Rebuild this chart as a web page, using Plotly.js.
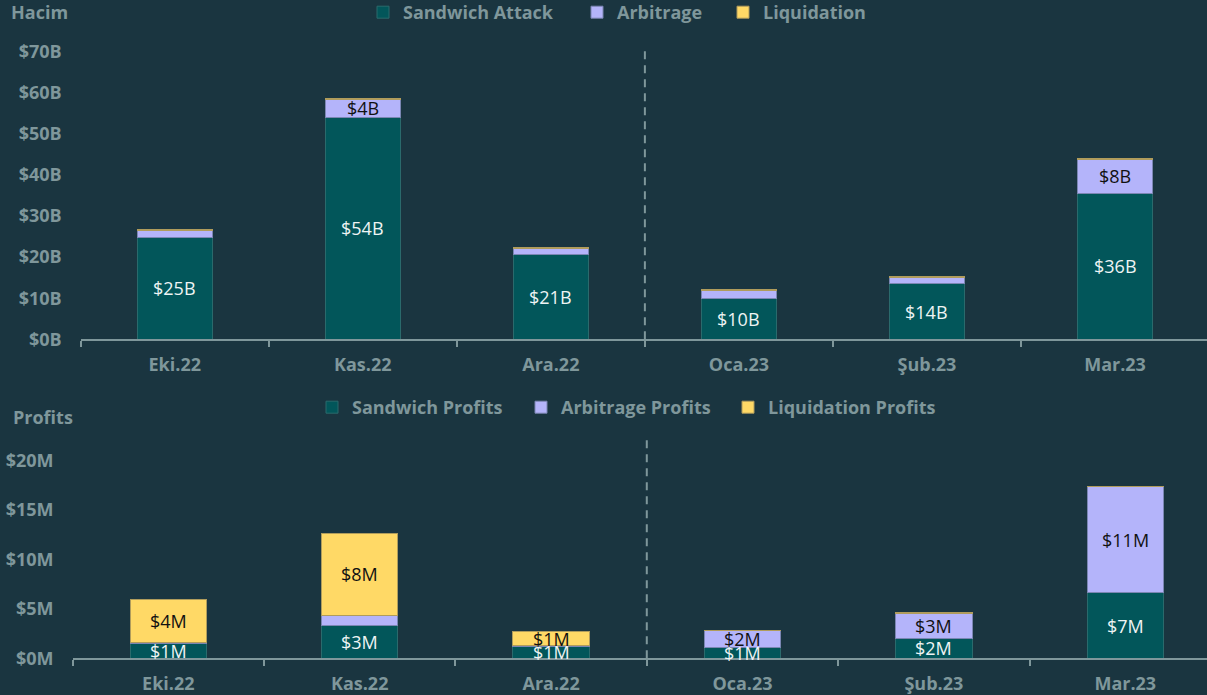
<!DOCTYPE html>
<html>
<head>
<meta charset="utf-8">
<script src="https://cdn.plot.ly/plotly-3.0.1.min.js"></script>
<style>
  html, body { margin: 0; padding: 0; background: #1a3540; }
  #chart { width: 1207px; height: 695px; }
</style>
</head>
<body>
<div id="chart"></div>
<script>
// ---- data ----
const months = ['Eki.22', 'Kas.22', 'Ara.22', 'Oca.23', 'Şub.23', 'Mar.23'];

// Volume (billions USD)
const volSandwich    = [24.8, 54.0, 20.7, 10.0, 13.5, 35.5];
const volArbitrage   = [1.7, 4.45, 1.4, 1.95, 1.6, 8.3];
const volLiquidation = [0.15, 0.25, 0.15, 0.15, 0.15, 0.15];
const volSandwichLabels  = ['$25B', '$54B', '$21B', '$10B', '$14B', '$36B'];
const volArbitrageLabels = ['', '$4B', '', '', '', '$8B'];

// Profits (millions USD)
const profSandwich    = [1.5, 3.3, 1.2, 1.1, 2.0, 6.6];
const profArbitrage   = [0.1, 1.05, 0.05, 1.7, 2.55, 10.7];
const profLiquidation = [4.3, 8.3, 1.45, 0.05, 0.05, 0.1];
const profSandwichLabels    = ['$1M', '$3M', '$1M', '$1M', '$2M', '$7M'];
const profArbitrageLabels   = ['', '', '', '$2M', '$3M', '$11M'];
const profLiquidationLabels = ['$4M', '$8M', '$1M', '', '', ''];

const volTicks       = [0, 10, 20, 30, 40, 50, 60, 70];
const volTickLabels  = ['$0B', '$10B', '$20B', '$30B', '$40B', '$50B', '$60B', '$70B'];
const profTicks      = [0, 5, 10, 15, 20];
const profTickLabels = ['$0M', '$5M', '$10M', '$15M', '$20M'];

// ---- style ----
const BG = '#1a3540';
const GREY = '#7f979b';
const C_SAND = '#02565a';
const C_ARB = '#b4b4fa';
const C_LIQ = '#ffd966';
const FONT = 'Open Sans, Noto Sans, sans-serif';

function bar(name, x, y, color, lineColor, xa, ya, legend) {
  return {
    type: 'bar', name: name, x: x, y: y,
    xaxis: xa, yaxis: ya, legend: legend,
    marker: { color: color, line: { color: lineColor, width: 1 } },
    hoverinfo: 'none'
  };
}

const traces = [
  bar('Sandwich Attack', months, volSandwich, C_SAND, '#2a6a6c', 'x', 'y', 'legend'),
  bar('Arbitrage', months, volArbitrage, C_ARB, '#7b86b3', 'x', 'y', 'legend2'),
  bar('Liquidation', months, volLiquidation, C_LIQ, '#b09c5c', 'x', 'y', 'legend3'),
  bar('Sandwich Profits', months, profSandwich, C_SAND, '#2a6a6c', 'x2', 'y2', 'legend4'),
  bar('Arbitrage Profits', months, profArbitrage, C_ARB, '#7b86b3', 'x2', 'y2', 'legend5'),
  bar('Liquidation Profits', months, profLiquidation, C_LIQ, '#b09c5c', 'x2', 'y2', 'legend6')
];

// segment labels, positioned at the middle of each stacked segment
const annotations = [];
function addLabels(stack, labels, layerIndex, xref, yref, color) {
  months.forEach((m, i) => {
    const txt = labels[i];
    if (!txt) return;
    let base = 0;
    for (let k = 0; k < layerIndex; k++) base += stack[k][i];
    const mid = base + stack[layerIndex][i] / 2;
    annotations.push({
      x: m, y: mid, xref: xref, yref: yref, text: txt, showarrow: false,
      font: { family: FONT, size: 18, color: color }, xanchor: 'center', yanchor: 'middle'
    });
  });
}
const volStack = [volSandwich, volArbitrage, volLiquidation];
const profStack = [profSandwich, profArbitrage, profLiquidation];
addLabels(volStack, volSandwichLabels, 0, 'x', 'y', '#eef4f4');
addLabels(volStack, volArbitrageLabels, 1, 'x', 'y', '#111111');
addLabels(profStack, profSandwichLabels, 0, 'x2', 'y2', '#eef4f4');
addLabels(profStack, profArbitrageLabels, 1, 'x2', 'y2', '#111111');
addLabels(profStack, profLiquidationLabels, 2, 'x2', 'y2', '#111111');

annotations.push({
  text: 'Hacim', xref: 'paper', yref: 'paper', x: 9 / 1207, y: 1 - 12 / 695,
  xanchor: 'left', yanchor: 'middle', showarrow: false,
  font: { family: FONT, size: 18, color: GREY, weight: 700 }
});
annotations.push({
  text: 'Profits', xref: 'paper', yref: 'paper', x: 11 / 1207, y: 1 - 417 / 695,
  xanchor: 'left', yanchor: 'middle', showarrow: false,
  font: { family: FONT, size: 18, color: GREY, weight: 700 }
});

const tickFont = { family: FONT, size: 18, color: GREY, weight: 700 };
const legendFont = { family: FONT, size: 18, color: GREY, weight: 700 };

function xAxis(domainStart, rangeEnd) {
  return {
    type: 'category', domain: [domainStart, 1], range: [-0.5, rangeEnd],
    showline: true, linecolor: GREY, linewidth: 2,
    ticks: 'outside', ticklen: 6, tickwidth: 2, tickcolor: GREY, tickson: 'boundaries',
    showgrid: false, zeroline: false, tickfont: tickFont, ticklabelstandoff: 8,
    fixedrange: true, automargin: false
  };
}

function legendAt(px, py) {
  return {
    orientation: 'h', x: px / 1207, y: 1 - py / 695, xanchor: 'left', yanchor: 'top',
    bgcolor: 'rgba(0,0,0,0)', font: legendFont,
    itemclick: false, itemdoubleclick: false
  };
}

const layout = {
  width: 1207, height: 695,
  paper_bgcolor: BG, plot_bgcolor: BG,
  margin: { l: 0, r: 0, t: 0, b: 0, pad: 0, autoexpand: false },
  barmode: 'stack', bargap: 0.6,
  font: { family: FONT, color: GREY },
  showlegend: true,
  xaxis: xAxis(80.7 / 1207, 5.489),
  yaxis: {
    domain: [1 - 339.3 / 695, 1 - 45.4 / 695], range: [0, 71.5],
    tickvals: volTicks, ticktext: volTickLabels,
    showgrid: false, zeroline: false, showline: false, ticks: '',
    tickfont: tickFont, ticklabelstandoff: 18, fixedrange: true, automargin: false
  },
  xaxis2: Object.assign(xAxis(72.6 / 1207, 5.427), { anchor: 'y2' }),
  yaxis2: {
    anchor: 'x2',
    domain: [1 - 658.3 / 695, 1 - 435.5 / 695], range: [0, 22.5],
    tickvals: profTicks, ticktext: profTickLabels,
    showgrid: false, zeroline: false, showline: false, ticks: '',
    tickfont: tickFont, ticklabelstandoff: 18, fixedrange: true, automargin: false
  },
  legend:  legendAt(363, -6),
  legend2: legendAt(577, -6),
  legend3: legendAt(723, -6),
  legend4: legendAt(312, 389),
  legend5: legendAt(521, 389),
  legend6: legendAt(728, 389),
  shapes: [
    { type: 'line', xref: 'x', yref: 'y domain', x0: 2.5, x1: 2.5, y0: 0, y1: 1,
      line: { color: GREY, width: 2, dash: '8px,6px' } },
    { type: 'line', xref: 'x2', yref: 'y2 domain', x0: 2.5, x1: 2.5, y0: 0, y1: 1,
      line: { color: GREY, width: 2, dash: '8px,6px' } }
  ],
  annotations: annotations
};

Plotly.newPlot('chart', traces, layout, { displayModeBar: false, staticPlot: true });
</script>
</body>
</html>
